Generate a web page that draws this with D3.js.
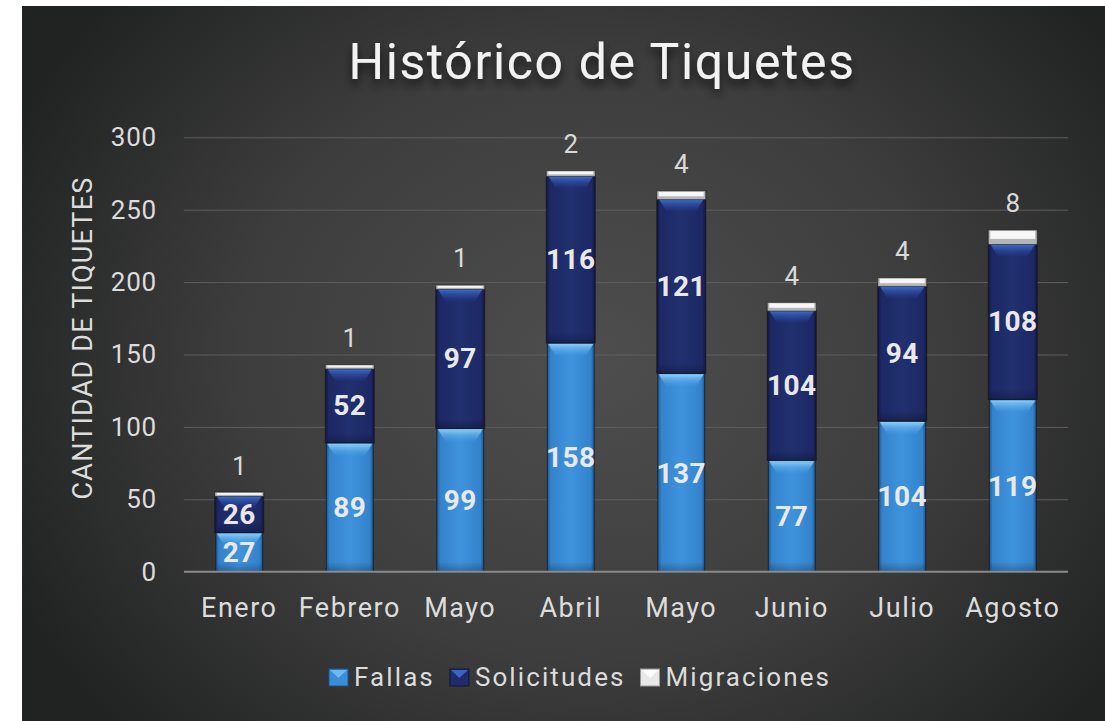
<!DOCTYPE html>
<html><head><meta charset="utf-8">
<script src="https://cdn.jsdelivr.net/npm/d3@7"></script>
<style>
html,body{margin:0;padding:0;background:#ffffff;}
svg{display:block;}
text{font-family:Roboto, "DejaVu Sans", sans-serif;}
</style></head>
<body>
<svg id="chart" width="1105" height="721"></svg>
<script>
const categories = ["Enero","Febrero","Mayo","Abril","Mayo","Junio","Julio","Agosto"];
const fallas = [27,89,99,158,137,77,104,119];
const solicitudes = [26,52,97,116,121,104,94,108];
const migraciones = [1,1,1,2,4,4,4,8];
const seriesNames = ["Fallas","Solicitudes","Migraciones"];
const yTicks = [0,50,100,150,200,250,300];
const titleText = "Histórico de Tiquetes";
const yTitle = "CANTIDAD DE TIQUETES";

const W = 1105, H = 721;
const svg = d3.select("#chart");
const defs = svg.append("defs");

// background
const bg = defs.append("radialGradient").attr("id","bg")
  .attr("gradientUnits","userSpaceOnUse").attr("cx",590).attr("cy",360).attr("r",640)
  .attr("gradientTransform","translate(590,360) scale(1,0.85) translate(-590,-360)");
bg.append("stop").attr("offset","0%").attr("stop-color","#4e4e4e");
bg.append("stop").attr("offset","55%").attr("stop-color","#3d3d3d");
bg.append("stop").attr("offset","100%").attr("stop-color","#212222");
svg.append("rect").attr("x",22).attr("y",6).attr("width",W-22).attr("height",H-6).attr("fill","url(#bg)");

function hGrad(id, stops){
  const g = defs.append("linearGradient").attr("id",id).attr("x1","0").attr("x2","1").attr("y1","0").attr("y2","0");
  stops.forEach(s=>g.append("stop").attr("offset",s[0]).attr("stop-color",s[1]).attr("stop-opacity",s[2]===undefined?1:s[2]));
}
function vGrad(id, stops){
  const g = defs.append("linearGradient").attr("id",id).attr("x1","0").attr("x2","0").attr("y1","0").attr("y2","1");
  stops.forEach(s=>g.append("stop").attr("offset",s[0]).attr("stop-color",s[1]).attr("stop-opacity",s[2]===undefined?1:s[2]));
}
hGrad("gFallas",[["0%","#1d5590"],["7%","#3383cc"],["50%","#3f93dd"],["93%","#3383cc"],["100%","#1d5590"]]);
hGrad("gSol",[["0%","#10173d"],["7%","#1d2865"],["50%","#21306f"],["93%","#1d2865"],["100%","#10173d"]]);
vGrad("gMig",[["0%","#ffffff"],["55%","#e6e6e6"],["100%","#9a9a9a"]]);
vGrad("hFallas",[["0%","#8fd0fb",0.95],["100%","#4aa3e8",0]]);
vGrad("hSol",[["0%","#3f74d6",0.95],["100%","#2a4aa8",0]]);
vGrad("bShade",[["0%","#000000",0],["100%","#000000",0.25]]);

const fl = defs.append("filter").attr("id","shadow").attr("x","-20%").attr("y","-50%").attr("width","140%").attr("height","200%");
fl.append("feGaussianBlur").attr("in","SourceAlpha").attr("stdDeviation",5).attr("result","b");
fl.append("feOffset").attr("in","b").attr("dx",0).attr("dy",6).attr("result","o");
fl.append("feComponentTransfer").attr("in","o").attr("result","o2").append("feFuncA").attr("type","linear").attr("slope",0.7);
const fm = fl.append("feMerge"); fm.append("feMergeNode").attr("in","o2"); fm.append("feMergeNode").attr("in","SourceGraphic");

// scales
const x0 = 184, x1 = 1068, yTop = 137.3, yBot = 571.7;
const x = d3.scaleBand().domain(d3.range(categories.length)).range([x0,x1]).paddingInner(0.575).paddingOuter(0.2875);
const y = d3.scaleLinear().domain([0,300]).range([yBot,yTop]);

// gridlines
const grid = svg.append("g").attr("transform",`translate(${x0},0)`)
  .call(d3.axisLeft(y).tickValues(yTicks.filter(t=>t>0)).tickSize(-(x1-x0)).tickFormat(""));
grid.select(".domain").remove();
grid.selectAll("line").attr("stroke","#5e5e5e").attr("stroke-width",1);

// y axis labels
const yAx = svg.append("g").attr("transform",`translate(${x0},0)`)
  .call(d3.axisLeft(y).tickValues(yTicks).tickSize(0).tickPadding(27));
yAx.select(".domain").remove();
yAx.selectAll("text").attr("fill","#dcdcdc").style("font-size","26px").style("letter-spacing","0.8px");

// stacked data
const rows = categories.map((c,i)=>({i, Fallas:fallas[i], Solicitudes:solicitudes[i], Migraciones:migraciones[i]}));
const stack = d3.stack().keys(seriesNames)(rows);

const fills = {Fallas:"url(#gFallas)", Solicitudes:"url(#gSol)", Migraciones:"url(#gMig)"};
const highlights = {Fallas:"url(#hFallas)", Solicitudes:"url(#hSol)"};

const barsG = svg.append("g");
stack.forEach(layer=>{
  const key = layer.key;
  const g = barsG.append("g");
  layer.forEach(d=>{
    const bx = x(d.data.i), bw = x.bandwidth();
    const top = y(d[1]), bot = y(d[0]);
    const h = bot - top;
    if(highlights[key]){
      const ext = key==="Fallas" ? 0 : 1;
      g.append("rect").attr("x",bx-ext).attr("y",top).attr("width",bw+2*ext).attr("height",h)
        .attr("fill",fills[key]).attr("stroke","#141414").attr("stroke-opacity",0.7).attr("stroke-width",1);
      const hh = Math.min(14,h);
      g.append("path")
        .attr("d",`M${bx+1},${top+1} L${bx+bw-1},${top+1} L${bx+bw-9},${top+hh} L${bx+9},${top+hh} Z`)
        .attr("fill",highlights[key]);
      const sh = Math.min(10,h);
      g.append("rect").attr("x",bx+1).attr("y",bot-sh).attr("width",bw-2).attr("height",sh).attr("fill","url(#bShade)");
    } else {
      // white cap with bevel border
      g.append("rect").attr("x",bx-1).attr("y",top-1.5).attr("width",bw+2).attr("height",h+3)
        .attr("fill","#b5b5b5").attr("stroke","#1a1a1a").attr("stroke-opacity",0.6).attr("stroke-width",1);
      g.append("rect").attr("x",bx+1).attr("y",top-0.5).attr("width",bw-2).attr("height",Math.max(1.5,h*0.6+1))
        .attr("fill","#f7f7f7");
    }
  });
});

// inside labels
stack.filter(l=>l.key!=="Migraciones").forEach(layer=>{
  svg.append("g").selectAll("text").data(layer).join("text")
    .attr("x",d=>x(d.data.i)+x.bandwidth()/2)
    .attr("y",d=>(y(d[0])+y(d[1]))/2)
    .attr("dy","0.36em")
    .attr("text-anchor","middle")
    .attr("fill","#e9e9e9")
    .style("font-size","28px").style("font-weight","bold").style("letter-spacing","0.5px")
    .text(d=>d.data[layer.key]);
});
// top labels
const migLayer = stack.find(l=>l.key==="Migraciones");
svg.append("g").selectAll("text").data(migLayer).join("text")
  .attr("x",d=>x(d.data.i)+x.bandwidth()/2)
  .attr("y",d=>y(d[1])-19)
  .attr("text-anchor","middle")
  .attr("fill","#d9d9d9")
  .style("font-size","26px")
  .text(d=>d.data.Migraciones);

// baseline
svg.append("line").attr("x1",x0).attr("x2",x1).attr("y1",yBot).attr("y2",yBot)
  .attr("stroke","#8a8a8a").attr("stroke-width",2);

// x axis labels
const xAx = svg.append("g").attr("transform",`translate(0,${yBot})`)
  .call(d3.axisBottom(x).tickSize(0).tickPadding(26).tickFormat(i=>categories[i]));
xAx.select(".domain").remove();
xAx.selectAll("text").attr("fill","#dcdcdc").style("font-size","27px").style("letter-spacing","1.5px");

// title
svg.append("text").attr("x",602).attr("y",79).attr("text-anchor","middle")
  .attr("fill","#f2f2f2").style("font-size","50px").style("letter-spacing","1.6px")
  .attr("filter","url(#shadow)").text(titleText);

// y title
svg.append("text").attr("transform","translate(92,338) rotate(-90)").attr("text-anchor","middle")
  .attr("fill","#dcdcdc").style("font-size","27px").style("letter-spacing","1.2px").text(yTitle);

// legend
const leg = svg.append("g");
const legFills = {Fallas:["#3a8ed8","#1d5590","#7cc4f7"], Solicitudes:["#1f2b6a","#10173d","#3f74d6"], Migraciones:["#e8e8e8","#9a9a9a","#ffffff"]};
let lx = 329;
seriesNames.forEach(name=>{
  const c = legFills[name];
  leg.append("rect").attr("x",lx).attr("y",669).attr("width",19).attr("height",17).attr("fill",c[0]).attr("stroke",c[1]).attr("stroke-width",1);
  leg.append("path").attr("d",`M${lx+1},${670} L${lx+18},${670} L${lx+9.5},${678} Z`).attr("fill",c[2]).attr("opacity",0.8);
  const t = leg.append("text").attr("x",lx+25).attr("y",686).attr("fill","#dcdcdc")
    .style("font-size","26px").style("letter-spacing","2.1px").text(name);
  lx += 25 + t.node().getComputedTextLength() + 15;
});
</script>
</body></html>
